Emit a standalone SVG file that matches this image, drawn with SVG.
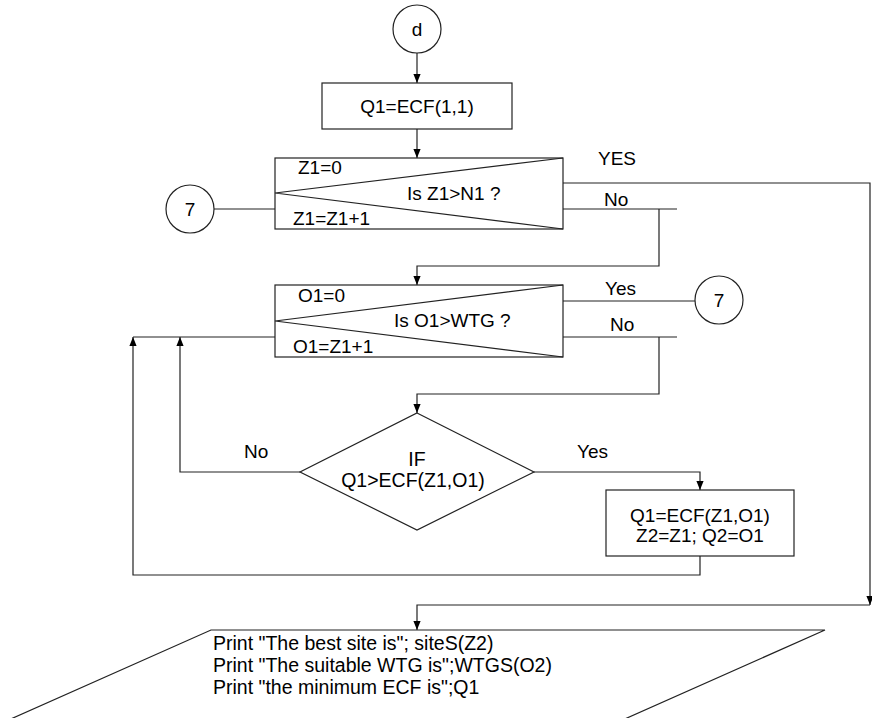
<svg xmlns="http://www.w3.org/2000/svg" width="872" height="718" viewBox="0 0 872 718">
<style>
.s{fill:#fff;stroke:#222;stroke-width:1.2}
.c{fill:none;stroke:#222;stroke-width:1.2}
.a{fill:none;stroke:#222;stroke-width:1.2;marker-end:url(#ah)}
text{font-family:"Liberation Sans",Arial,sans-serif;font-size:19px;fill:#000}
.m{text-anchor:middle}
.p{font-size:19.5px}
</style>
<defs>
<marker id="ah" viewBox="0 0 10 10" refX="10" refY="5" markerWidth="9" markerHeight="9" orient="auto" markerUnits="userSpaceOnUse">
<path d="M0,1 L10,5 L0,9 z" fill="#000"/>
</marker>
</defs>
<rect width="872" height="718" fill="#fff"/>
<g id="connectors">
<path class="a" d="M417,53 V83"/>
<path class="a" d="M417,129 V158"/>
<path class="c" d="M214,209 H275"/>
<path class="a" d="M563,183 H870 V605"/>
<path class="a" d="M870,605 H417 V630"/>
<path class="c" d="M563,209 H677"/>
<path class="a" d="M659,209 V266 H417 V285"/>
<path class="c" d="M563,301 H695"/>
<path class="c" d="M563,337 H677"/>
<path class="a" d="M659,337 V394 H417 V413"/>
<path class="c" d="M275,337 H133"/>
<path class="a" d="M534,472 H700 V490"/>
<path class="a" d="M700,556 V575 H133 V337"/>
<path class="a" d="M300,472 H180 V337"/>
</g>
<g id="label-yes1"><text x="598" y="165">YES</text></g>
<g id="label-no1"><text x="604" y="206">No</text></g>
<g id="label-yes2"><text x="605" y="295">Yes</text></g>
<g id="label-no2"><text x="610" y="331">No</text></g>
<g id="label-no3"><text x="244" y="458">No</text></g>
<g id="label-yes3"><text x="577" y="458">Yes</text></g>
<g id="start-d">
<circle class="s" cx="417" cy="29" r="24"/>
<text class="m" x="417" y="36">d</text>
</g>
<g id="init-q1">
<rect class="s" x="322" y="83" width="190" height="46"/>
<text class="m" x="417" y="113">Q1=ECF(1,1)</text>
</g>
<g id="loop-z1">
<rect class="s" x="275" y="158" width="288" height="71"/>
<path class="c" d="M563,158 L275,193 L563,229"/>
<text x="298" y="174">Z1=0</text>
<text x="407" y="200">Is Z1&gt;N1 ?</text>
<text x="293" y="225">Z1=Z1+1</text>
</g>
<g id="conn-7-left">
<circle class="s" cx="190" cy="209" r="24"/>
<text class="m" x="190" y="216">7</text>
</g>
<g id="loop-o1">
<rect class="s" x="275" y="285" width="288" height="72"/>
<path class="c" d="M563,285 L275,321 L563,357"/>
<text x="298" y="302">O1=0</text>
<text x="394" y="327">Is O1&gt;WTG ?</text>
<text x="293" y="353">O1=Z1+1</text>
</g>
<g id="conn-7-right">
<circle class="s" cx="719" cy="300" r="24"/>
<text class="m" x="719" y="307">7</text>
</g>
<g id="decision">
<polygon class="s" points="417,413 534,472 417,530 300,472"/>
<text class="m p" x="417" y="466">IF</text>
<text class="m p" x="413" y="487">Q1&gt;ECF(Z1,O1)</text>
</g>
<g id="update">
<rect class="s" x="606" y="490" width="188" height="66"/>
<text class="m" x="700" y="522">Q1=ECF(Z1,O1)</text>
<text class="m" x="700" y="542">Z2=Z1; Q2=O1</text>
</g>
<g id="output">
<polygon class="s" points="211,630 825,630 600,730 -14,730"/>
<text class="p" x="213" y="650">Print "The best site is"; siteS(Z2)</text>
<text class="p" x="213" y="672">Print "The suitable WTG is";WTGS(O2)</text>
<text class="p" x="213" y="694">Print "the minimum ECF is";Q1</text>
</g>
</svg>
